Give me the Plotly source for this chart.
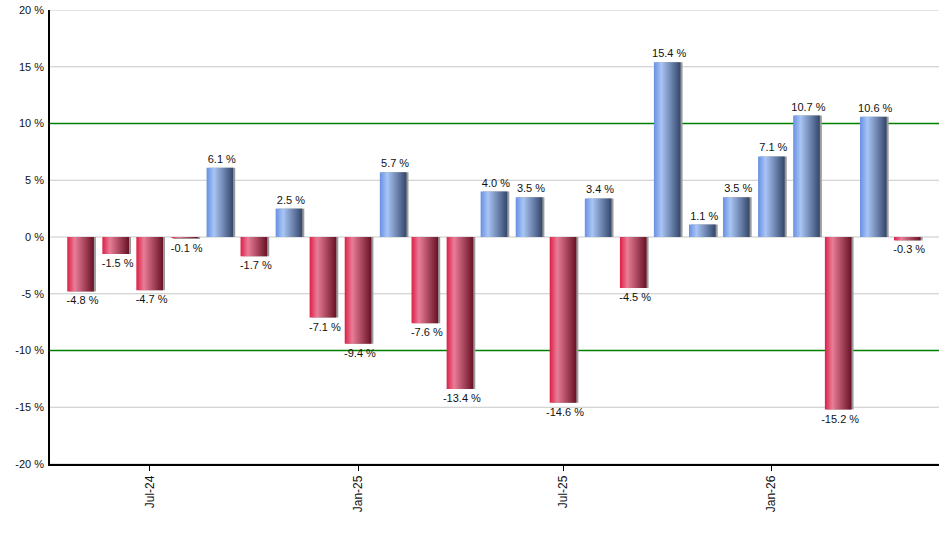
import pandas as pd
import plotly.graph_objects as go

# monthly returns, May-24 .. May-26
months = ["2024-05-01", "2024-06-01", "2024-07-01", "2024-08-01", "2024-09-01",
          "2024-10-01", "2024-11-01", "2024-12-01", "2025-01-01", "2025-02-01",
          "2025-03-01", "2025-04-01", "2025-05-01", "2025-06-01", "2025-07-01",
          "2025-08-01", "2025-09-01", "2025-10-01", "2025-11-01", "2025-12-01",
          "2026-01-01", "2026-02-01", "2026-03-01", "2026-04-01", "2026-05-01"]
returns = [-4.8, -1.5, -4.7, -0.1, 6.1, -1.7, 2.5, -7.1, -9.4, 5.7,
           -7.6, -13.4, 4.0, 3.5, -14.6, 3.4, -4.5, 15.4, 1.1, 3.5,
           7.1, 10.7, -15.2, 10.6, -0.3]
y_ticks = [-20, -15, -10, -5, 0, 5, 10, 15, 20]
band_levels = [10, -10]

dates = pd.to_datetime(months)
DAY_MS = 24 * 3600 * 1000
half_w = pd.Timedelta(days=11.75)

blue_scale = [[0, "#6790e3"], [0.28, "#a9c5f5"], [1, "#33466b"]]
red_scale = [[0, "#dc1f47"], [0.28, "#e97d97"], [1, "#681124"]]

fig = go.Figure()

# grey grid + green bands, all behind the bars
for lvl in y_ticks:
    if lvl not in band_levels:
        fig.add_shape(type="line", xref="paper", x0=0, x1=1, yref="y", y0=lvl, y1=lvl,
                      line=dict(color="#c8c8c8", width=1), layer="below")
for lvl in band_levels:
    fig.add_shape(type="line", xref="paper", x0=0, x1=1, yref="y", y0=lvl, y1=lvl,
                  line=dict(color="#008000", width=1.5), layer="below")

# shadow bars (also carry the value labels)
fig.add_trace(go.Bar(
    x=dates, y=returns,
    width=23.5 * DAY_MS,
    offset=(-11.75 + 1.8) * DAY_MS,
    marker=dict(color="#9a9a9a", line=dict(width=0)),
    text=[f"{v:.1f} %" for v in returns],
    textposition="outside",
    constraintext="none",
    textfont=dict(size=11, color="#111111", family="Liberation Sans, Arial"),
    cliponaxis=False,
    hoverinfo="skip",
))

# gradient bodies
for d, v in zip(dates, returns):
    x0, x1 = d - half_w, d + half_w
    fig.add_trace(go.Scatter(
        x=[x0, x1, x1, x0, x0], y=[0, 0, v, v, 0],
        mode="lines", fill="toself",
        line=dict(width=0),
        fillgradient=dict(type="horizontal",
                          colorscale=blue_scale if v >= 0 else red_scale),
        hoverinfo="skip",
    ))

fig.update_layout(
    width=940, height=550,
    margin=dict(l=50, r=1, t=10, b=86),
    paper_bgcolor="white", plot_bgcolor="white",
    showlegend=False,
    font=dict(family="Liberation Sans, Arial", size=11, color="#111111"),
    xaxis=dict(
        type="date",
        range=["2024-04-04", "2026-05-29"],
        tick0="2024-07-01", dtick="M6", tickformat="%b-%y",
        tickangle=-90, tickfont=dict(size=12),
        ticks="outside", ticklen=5, tickcolor="black",
        showgrid=False, zeroline=False,
        showline=True, linecolor="black", linewidth=1.5,
    ),
    yaxis=dict(
        range=[-20, 20],
        tickvals=y_ticks, ticktext=[f"{v} %" for v in y_ticks],
        showgrid=False, zeroline=False,
        showline=True, linecolor="black", linewidth=1.5,
        ticks="", ticklabelstandoff=2,
    ),
)

# drop the default page margin so the figure sits at the window corner
fig.write_html("out.html", config={"displayModeBar": False},
               post_script="document.body.style.margin='0';")
